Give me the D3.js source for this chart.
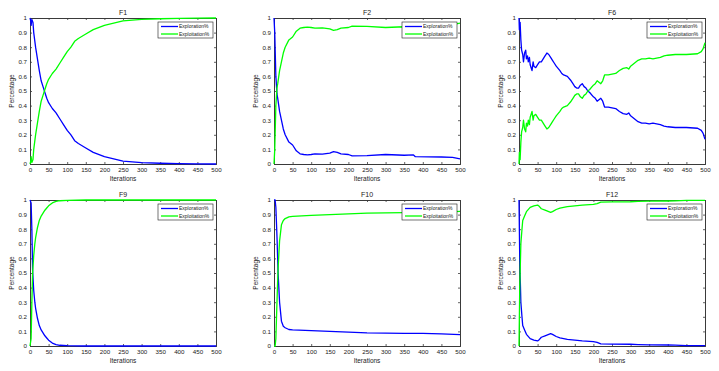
<!DOCTYPE html>
<html>
<head>
<meta charset="utf-8">
<script src="https://cdn.jsdelivr.net/npm/d3@7"></script>
<style>
body { margin: 0; background: #fff; }
svg { display: block; }
text { font-family: "Liberation Sans", Arial, sans-serif; }
</style>
</head>
<body>
<div id="chart"></div>
<script>
var titles = ["F1", "F2", "F6", "F9", "F10", "F12"];
var seriesNames = ["Exploration%", "Exploitation%"];
var xTicks = [0, 50, 100, 150, 200, 250, 300, 350, 400, 450, 500];
var yTicks = [0, 0.1, 0.2, 0.3, 0.4, 0.5, 0.6, 0.7, 0.8, 0.9, 1];

var f1Iter = [0, 2, 3, 5, 8, 10, 15, 20, 25, 30, 35, 40, 45, 50, 60, 70, 80, 90, 100, 110, 120, 130, 150, 170, 200, 250, 300, 350, 400, 450, 500];
var f1Explore = [1, 0.98, 0.95, 0.99, 0.97, 0.9, 0.8, 0.72, 0.64, 0.57, 0.53, 0.49, 0.45, 0.42, 0.38, 0.35, 0.31, 0.27, 0.23, 0.2, 0.16, 0.14, 0.11, 0.08, 0.05, 0.02, 0.01, 0.005, 0.002, 0.001, 0];
var f1Exploit = [0, 0.02, 0.05, 0.01, 0.03, 0.1, 0.2, 0.28, 0.36, 0.43, 0.47, 0.51, 0.55, 0.58, 0.62, 0.65, 0.69, 0.73, 0.77, 0.8, 0.84, 0.86, 0.89, 0.92, 0.95, 0.98, 0.99, 0.995, 0.998, 0.999, 1];

var f2Iter = [0, 2, 5, 8, 10, 15, 20, 25, 30, 40, 50, 60, 70, 80, 90, 100, 110, 130, 150, 160, 170, 180, 200, 210, 250, 300, 350, 375, 380, 450, 480, 500];
var f2Explore = [1, 0.9, 0.6, 0.48, 0.45, 0.36, 0.3, 0.24, 0.2, 0.15, 0.13, 0.09, 0.07, 0.065, 0.063, 0.065, 0.07, 0.068, 0.075, 0.085, 0.08, 0.07, 0.065, 0.055, 0.057, 0.065, 0.06, 0.062, 0.05, 0.048, 0.045, 0.035];
var f2Exploit = [0, 0.1, 0.4, 0.52, 0.55, 0.64, 0.7, 0.76, 0.8, 0.85, 0.87, 0.91, 0.93, 0.935, 0.937, 0.935, 0.93, 0.932, 0.925, 0.915, 0.92, 0.93, 0.935, 0.945, 0.943, 0.935, 0.94, 0.938, 0.95, 0.952, 0.955, 0.965];

var f6Iter = [0, 1, 3, 5, 7, 10, 12, 15, 18, 20, 23, 25, 28, 30, 35, 38, 40, 45, 50, 55, 60, 65, 70, 75, 80, 85, 90, 95, 100, 110, 115, 120, 130, 140, 145, 150, 155, 160, 165, 170, 175, 180, 185, 190, 200, 205, 210, 215, 220, 225, 230, 240, 250, 260, 270, 280, 290, 295, 300, 310, 320, 330, 340, 350, 360, 370, 380, 390, 400, 420, 450, 480, 490, 495, 500];
var f6Explore = [1, 0.92, 0.97, 0.85, 0.78, 0.75, 0.7, 0.76, 0.78, 0.72, 0.74, 0.7, 0.73, 0.68, 0.64, 0.7, 0.67, 0.66, 0.68, 0.7, 0.7, 0.72, 0.74, 0.76, 0.75, 0.73, 0.71, 0.69, 0.67, 0.64, 0.62, 0.61, 0.6, 0.57, 0.55, 0.53, 0.52, 0.52, 0.54, 0.55, 0.53, 0.52, 0.5, 0.49, 0.46, 0.45, 0.43, 0.44, 0.45, 0.43, 0.39, 0.39, 0.385, 0.38, 0.36, 0.345, 0.34, 0.35, 0.33, 0.31, 0.29, 0.28, 0.28, 0.275, 0.28, 0.275, 0.27, 0.26, 0.255, 0.25, 0.25, 0.245, 0.23, 0.21, 0.17];
var f6Exploit = [0, 0.08, 0.03, 0.15, 0.22, 0.25, 0.3, 0.24, 0.22, 0.28, 0.26, 0.3, 0.27, 0.32, 0.36, 0.3, 0.33, 0.34, 0.32, 0.3, 0.3, 0.28, 0.26, 0.24, 0.25, 0.27, 0.29, 0.31, 0.33, 0.36, 0.38, 0.39, 0.4, 0.43, 0.45, 0.47, 0.48, 0.48, 0.46, 0.45, 0.47, 0.48, 0.5, 0.51, 0.54, 0.55, 0.57, 0.56, 0.55, 0.57, 0.61, 0.61, 0.615, 0.62, 0.64, 0.655, 0.66, 0.65, 0.67, 0.69, 0.71, 0.72, 0.72, 0.725, 0.72, 0.725, 0.73, 0.74, 0.745, 0.75, 0.75, 0.755, 0.77, 0.79, 0.83];

var f9Iter = [0, 3, 5, 7, 10, 13, 15, 20, 25, 30, 35, 40, 45, 50, 60, 70, 80, 100, 150, 500];
var f9Explore = [1, 0.98, 0.8, 0.52, 0.38, 0.3, 0.26, 0.19, 0.14, 0.11, 0.09, 0.07, 0.055, 0.04, 0.02, 0.01, 0.005, 0.002, 0, 0];
var f9Exploit = [0, 0.05, 0.3, 0.5, 0.62, 0.7, 0.74, 0.81, 0.86, 0.89, 0.91, 0.93, 0.945, 0.96, 0.98, 0.99, 0.995, 0.998, 1, 1];

var f10Iter = [0, 3, 5, 8, 11, 15, 20, 25, 30, 40, 50, 100, 150, 200, 250, 300, 350, 400, 450, 500];
var f10Explore = [1, 1, 0.95, 0.75, 0.5, 0.3, 0.17, 0.135, 0.125, 0.113, 0.11, 0.105, 0.1, 0.095, 0.09, 0.088, 0.087, 0.086, 0.083, 0.078];
var f10Exploit = [0, 0, 0.05, 0.3, 0.53, 0.72, 0.83, 0.86, 0.873, 0.885, 0.888, 0.895, 0.9, 0.905, 0.91, 0.912, 0.913, 0.914, 0.917, 0.922];

var f12Iter = [0, 2, 5, 8, 10, 15, 20, 30, 40, 50, 55, 60, 70, 80, 85, 90, 100, 110, 120, 130, 150, 170, 200, 210, 220, 250, 300, 320, 350, 400, 420, 450, 500];
var f12Explore = [1, 0.6, 0.3, 0.2, 0.14, 0.11, 0.08, 0.05, 0.04, 0.035, 0.045, 0.06, 0.07, 0.08, 0.085, 0.08, 0.065, 0.055, 0.05, 0.045, 0.04, 0.035, 0.03, 0.025, 0.015, 0.013, 0.012, 0.01, 0.008, 0.007, 0.006, 0.003, 0.002];
var f12Exploit = [0, 0.4, 0.7, 0.8, 0.86, 0.89, 0.92, 0.95, 0.96, 0.965, 0.955, 0.94, 0.93, 0.92, 0.915, 0.92, 0.935, 0.945, 0.95, 0.955, 0.96, 0.965, 0.97, 0.975, 0.985, 0.987, 0.988, 0.99, 0.992, 0.993, 0.994, 0.997, 0.998];

var panels = [
    { iter: f1Iter, explore: f1Explore, exploit: f1Exploit },
    { iter: f2Iter, explore: f2Explore, exploit: f2Exploit },
    { iter: f6Iter, explore: f6Explore, exploit: f6Exploit },
    { iter: f9Iter, explore: f9Explore, exploit: f9Exploit },
    { iter: f10Iter, explore: f10Explore, exploit: f10Exploit },
    { iter: f12Iter, explore: f12Explore, exploit: f12Exploit }
];

var colors = ["#0000ff", "#00ff00"];
var axisColor = "#3a3a3a";

var width = 719, height = 371;
var colLeft = [30, 274, 519];
var rowTop = [18, 200];
var plotW = 186, plotH = 146;

var svg = d3.select("#chart")
    .append("svg")
    .attr("width", width)
    .attr("height", height);

var fmt = function (d) { return d === 0 || d === 1 ? String(d) : d3.format(".1f")(d); };

panels.forEach(function (p, i) {
    var left = colLeft[i % 3];
    var top = rowTop[Math.floor(i / 3)];

    var x = d3.scaleLinear().domain([0, 500]).range([0, plotW]);
    var y = d3.scaleLinear().domain([0, 1]).range([plotH, 0]);

    var g = svg.append("g")
        .attr("transform", "translate(" + left + "," + top + ")");

    // bottom axis with labels, top axis mirrored
    var xAxis = g.append("g")
        .attr("transform", "translate(0," + plotH + ")")
        .call(d3.axisBottom(x).tickValues(xTicks).tickSize(-2).tickPadding(4).tickFormat(d3.format("d")));
    var xTop = g.append("g")
        .call(d3.axisTop(x).tickValues(xTicks).tickSize(-2).tickFormat(""));
    var yAxis = g.append("g")
        .call(d3.axisLeft(y).tickValues(yTicks).tickSize(-2).tickPadding(3).tickFormat(fmt));
    var yRight = g.append("g")
        .attr("transform", "translate(" + plotW + ",0)")
        .call(d3.axisRight(y).tickValues(yTicks).tickSize(-2).tickFormat(""));

    [xAxis, xTop, yAxis, yRight].forEach(function (a) {
        a.select(".domain").attr("stroke", axisColor).attr("stroke-width", 1);
        a.selectAll(".tick line").attr("stroke", axisColor).attr("stroke-width", 0.8);
        a.selectAll(".tick text")
            .attr("fill", "#1a1a1a")
            .style("font-size", "6.2px")
            .style("font-family", "'Liberation Sans', Arial, sans-serif");
    });

    var line = d3.line()
        .x(function (d) { return x(d[0]); })
        .y(function (d) { return y(d[1]); });

    [p.explore, p.exploit].forEach(function (vals, k) {
        g.append("path")
            .datum(p.iter.map(function (it, j) { return [it, vals[j]]; }))
            .attr("fill", "none")
            .attr("stroke", colors[k])
            .attr("stroke-width", 1.3)
            .attr("stroke-linejoin", "round")
            .attr("d", line);
    });

    g.append("text")
        .attr("x", plotW / 2)
        .attr("y", -3)
        .attr("text-anchor", "middle")
        .attr("fill", "#1a1a1a")
        .style("font-size", "7px")
        .text(titles[i]);

    g.append("text")
        .attr("x", plotW / 2)
        .attr("y", plotH + 17)
        .attr("text-anchor", "middle")
        .attr("fill", "#1a1a1a")
        .style("font-size", "6.5px")
        .text("Iterations");

    g.append("text")
        .attr("transform", "translate(-16," + (plotH / 2) + ") rotate(-90)")
        .attr("text-anchor", "middle")
        .attr("fill", "#1a1a1a")
        .style("font-size", "6.5px")
        .text("Percentage");

    // legend
    var lg = g.append("g")
        .attr("transform", "translate(" + (plotW - 58) + ",4)");
    lg.append("rect")
        .attr("width", 55)
        .attr("height", 16)
        .attr("fill", "#fff")
        .attr("stroke", "#1a1a1a")
        .attr("stroke-width", 0.6);
    seriesNames.forEach(function (name, k) {
        var ly = 4.5 + k * 7.5;
        lg.append("line")
            .attr("x1", 3).attr("x2", 20)
            .attr("y1", ly).attr("y2", ly)
            .attr("stroke", colors[k])
            .attr("stroke-width", 1.3);
        lg.append("text")
            .attr("x", 21)
            .attr("y", ly + 1.8)
            .attr("fill", "#1a1a1a")
            .style("font-size", "5px")
            .text(name);
    });
});
</script>
</body>
</html>
